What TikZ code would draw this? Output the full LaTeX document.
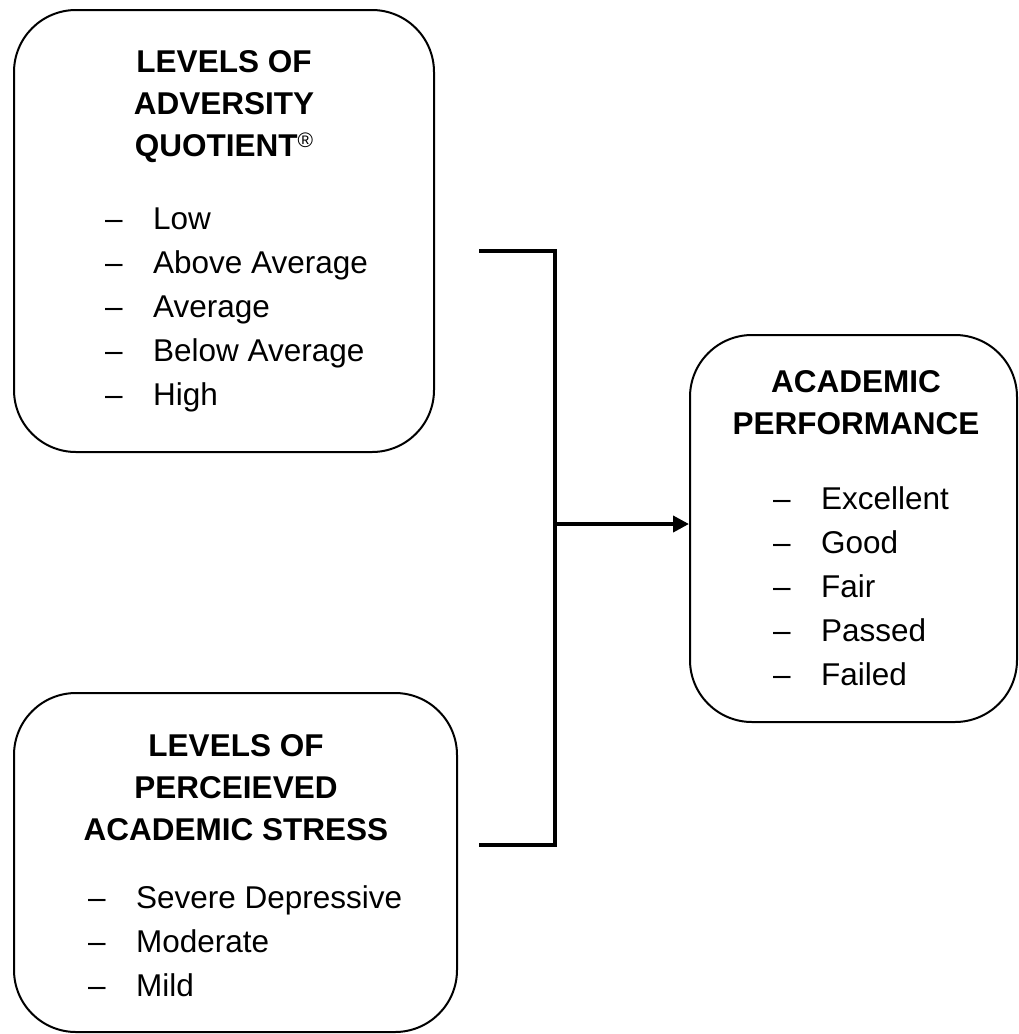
\documentclass[tikz,border=0pt]{standalone}
\usepackage{fontspec}
\setmainfont{Liberation Sans}
\usetikzlibrary{arrows.meta}
\newcommand\dashitem[1]{\makebox[48pt][l]{–}#1}
\begin{document}
\begin{tikzpicture}[x=1pt,y=-1pt,
  box/.style={draw, line width=2pt, rounded corners=62pt, inner sep=0pt},
  ttl/.style={font=\fontsize{31.5}{38}\selectfont\bfseries, anchor=base, inner sep=0pt},
  itm/.style={font=\fontsize{31.5}{38}\selectfont, anchor=base west, inner sep=0pt},
  link/.style={line width=3.8pt},
  arr/.style={link, -{Triangle[length=16pt,width=16pt]}}
]
\useasboundingbox (0,0) rectangle (1019,1034);

% boxes
\node[box, minimum width=420pt, minimum height=442pt] (aq) at (224,231) {};
\node[box, minimum width=443pt, minimum height=339pt] (st) at (235.5,862.5) {};
\node[box, minimum width=327pt, minimum height=387pt] (ap) at (853.5,528.5) {};

% box 1 text
\node[ttl] (aqt1) at (224,72) {LEVELS OF};
\node[ttl] (aqt2) at (224,114) {ADVERSITY};
\node[ttl] (aqt3) at (224,156) {QUOTIENT\raisebox{9pt}{\normalfont\fontsize{21}{21}\selectfont ®}};
\node[itm] (aqi1) at (105,229) {\dashitem{Low}};
\node[itm] (aqi2) at (105,273) {\dashitem{Above Average}};
\node[itm] (aqi3) at (105,317) {\dashitem{Average}};
\node[itm] (aqi4) at (105,361) {\dashitem{Below Average}};
\node[itm] (aqi5) at (105,405) {\dashitem{High}};

% box 2 text
\node[ttl] (stt1) at (236,756) {LEVELS OF};
\node[ttl] (stt2) at (236,798) {PERCEIEVED};
\node[ttl] (stt3) at (236,840) {ACADEMIC STRESS};
\node[itm] (sti1) at (88,908) {\dashitem{Severe Depressive}};
\node[itm] (sti2) at (88,952) {\dashitem{Moderate}};
\node[itm] (sti3) at (88,996) {\dashitem{Mild}};

% box 3 text
\node[ttl] (apt1) at (856,392) {ACADEMIC};
\node[ttl] (apt2) at (856,434) {PERFORMANCE};
\node[itm] (api1) at (773,509) {\dashitem{Excellent}};
\node[itm] (api2) at (773,553) {\dashitem{Good}};
\node[itm] (api3) at (773,597) {\dashitem{Fair}};
\node[itm] (api4) at (773,641) {\dashitem{Passed}};
\node[itm] (api5) at (773,685) {\dashitem{Failed}};

% connector
\coordinate (ta) at (479,251);
\coordinate (tc) at (555,251);
\coordinate (bc) at (555,845);
\coordinate (ba) at (479,845);
\coordinate (jn) at (555,524);
\draw[link, line join=miter] (ta) -- (tc) -- (bc) -- (ba);
\draw[arr] (jn) -- (jn -| ap.west);
\end{tikzpicture}
\end{document}
